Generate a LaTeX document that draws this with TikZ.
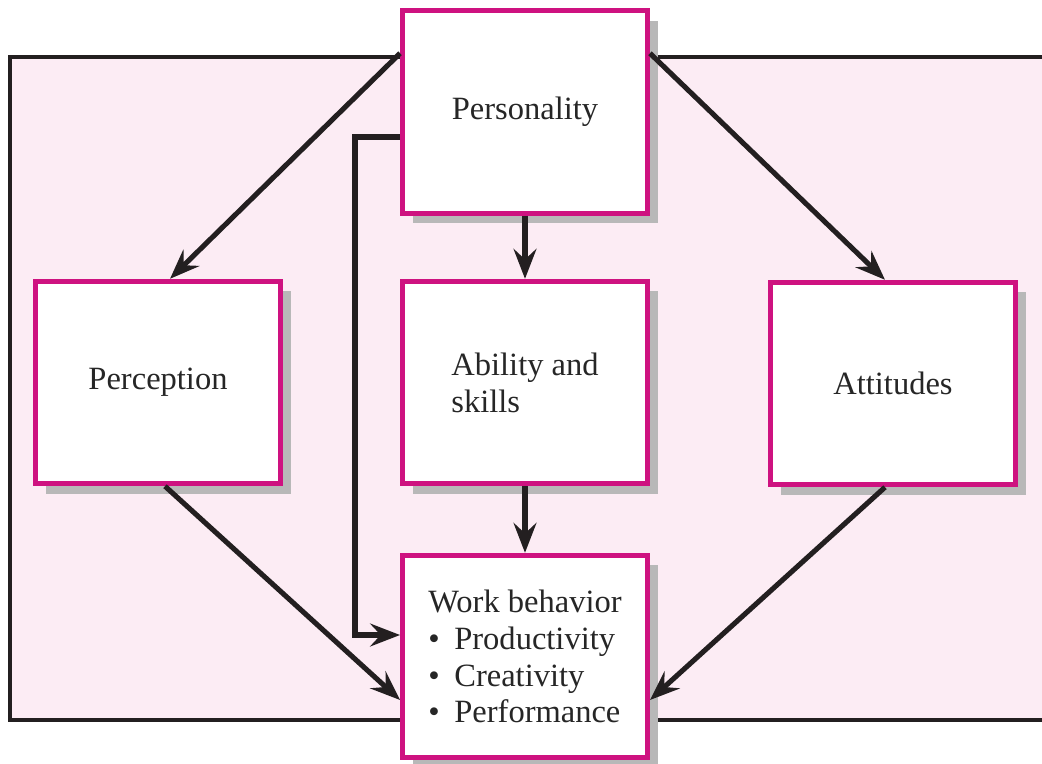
\documentclass[tikz,border=0pt]{standalone}
\usepackage{fontspec}
\setmainfont{Liberation Serif}
\usepackage{tikz}
\usetikzlibrary{arrows.meta,positioning,shadows,calc}
\definecolor{boxrim}{RGB}{206,18,128}
\definecolor{backpink}{RGB}{252,236,244}
\definecolor{inkline}{RGB}{35,31,32}
\newcommand{\itemdot}{\textbullet\hspace{0.45em}}

\begin{document}
\begin{tikzpicture}
[every node/.style={font=\fontsize{18.5}{21}\selectfont,text=black!85},
factor/.style={draw=boxrim,line width=2.8pt,fill=white,minimum width=4.9cm,minimum height=4.05cm,
    drop shadow={shadow xshift=0.2cm,shadow yshift=-0.2cm,fill=black!28,opacity=1}},
link/.style={draw=inkline,line width=2.9pt,-{Stealth[length=17pt,width=13pt,inset=6pt]}}]
\clip (0,0) rectangle (20.84,-15.26);
\fill[backpink,draw=inkline,line width=2.4pt] (0.2,-1.14) rectangle (21.5,-14.4);
\node[factor] (pers) at (10.5,-2.24) {Personality};
\node[factor] (perc) at (3.16,-7.65) {Perception};
\node[factor,align=left] (abil) at (10.5,-7.65) {Ability and\\skills};
\node[factor] (att) at (17.86,-7.67) {Attitudes};
\node[factor,align=left] (work) at (10.5,-13.13) {Work behavior\\\itemdot Productivity\\\itemdot Creativity\\\itemdot Performance};
\coordinate (persleft) at ($(pers.north west)+(0,-0.9)$);
\coordinate (persright) at ($(pers.north east)+(0,-0.9)$);
\coordinate (persloop) at ($(pers.west)+(0,-0.5)$);
\coordinate (turn) at (7.1,-2.74);
\coordinate (workloop) at ($(work.west)+(0,0.43)$);
\coordinate (worklow) at ($(work.west)+(0,-0.87)$);
\coordinate (workright) at ($(work.east)+(0,-0.87)$);
\draw[link] (persleft) -- ($(perc.north)+(0.24,0)$);
\draw[link] (persright) -- ($(att.north)+(-0.16,0)$);
\draw[link] (pers) -- (abil);
\draw[link] (persloop) -- (turn) |- (workloop);
\draw[link] (abil) -- (work);
\draw[link] ($(perc.south)+(0.14,0)$) -- (worklow);
\draw[link] ($(att.south)+(-0.16,0)$) -- (workright);
\end{tikzpicture}
\end{document}
